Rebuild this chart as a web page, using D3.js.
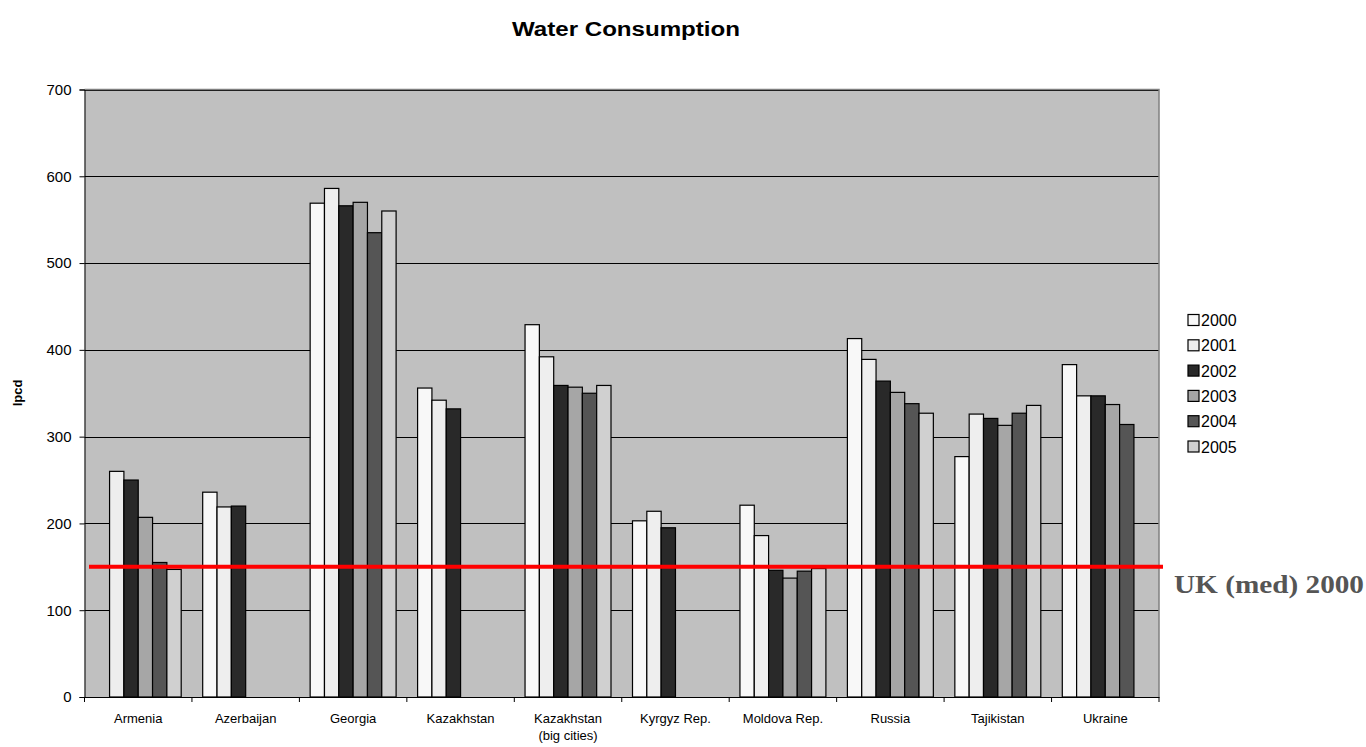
<!DOCTYPE html>
<html><head><meta charset="utf-8">
<script src="https://cdn.jsdelivr.net/npm/d3@7"></script>
<style>body{margin:0;background:#fff}svg{display:block}</style>
</head><body>
<svg id="c" width="1366" height="747"></svg>
<script>
const categories = ["Armenia","Azerbaijan","Georgia","Kazakhstan","Kazakhstan\n(big cities)","Kyrgyz Rep.","Moldova Rep.","Russia","Tajikistan","Ukraine"];
const years = ["2000","2001","2002","2003","2004","2005"];
const colors = ["#f8f8f8","#eeeeee","#292929","#a6a6a6","#555555","#d0d0d0"];
const v2000 = [null,236,569,356,429,203,221,413,277,383];
const v2001 = [260,219,586,342,392,214,186,389,326,347];
const v2002 = [250,220,566,332,359,195,146,364,321,347];
const v2003 = [207,null,570,null,357,null,137,351,313,337];
const v2004 = [155,null,535,null,350,null,145,338,327,314];
const v2005 = [147,null,560,null,359,null,148,327,336,null];
const series = [v2000,v2001,v2002,v2003,v2004,v2005];
const yTicks = [0,100,200,300,400,500,600,700];
const refValue = 150;
const refLabel = "UK (med) 2000";

const svg = d3.select("#c");
const L=84.5, R=1159, T=89.5, B=697;
const FONT = "Arial, Liberation Sans, sans-serif";
const x = d3.scaleBand().domain(categories).range([L,R]).paddingInner(0).paddingOuter(0);
const y = d3.scaleLinear().domain([0,700]).range([B,T]);

svg.append("rect").attr("x",L).attr("y",T).attr("width",R-L).attr("height",B-T).attr("fill","#c0c0c0");
svg.append("g").selectAll("line").data(yTicks.filter(d=>d>0)).join("line")
  .attr("x1",L).attr("x2",R).attr("y1",d=>Math.round(y(d))+0.5).attr("y2",d=>Math.round(y(d))+0.5)
  .attr("stroke","#000").attr("stroke-width",1);
svg.append("path").attr("d",`M${L},${T}H${R}V${B}`).attr("fill","none").attr("stroke","#808080").attr("stroke-width",1.5);

// bars: 6 bars per group with a gap of 150% of bar width
const bw = x.bandwidth()/7.5;
years.forEach((yr,i)=>{
  svg.append("g").selectAll("rect").data(categories.map((c,j)=>({c,v:series[i][j]})).filter(d=>d.v!=null)).join("rect")
    .attr("x",d=>x(d.c)+bw*0.75+i*bw).attr("width",bw)
    .attr("y",d=>y(d.v)).attr("height",d=>B-y(d.v))
    .attr("fill",colors[i]).attr("stroke","#000").attr("stroke-width",1.2);
});

// axes
const ya = svg.append("g").attr("transform",`translate(${L},0)`)
  .call(d3.axisLeft(y).tickValues(yTicks).tickSize(5).tickPadding(8));
ya.select(".domain").attr("stroke","#000");
ya.selectAll("text").attr("font-family",FONT).attr("font-size",15).attr("fill","#000");
const xa = svg.append("g").attr("transform",`translate(0,${B})`)
  .call(d3.axisBottom(x).tickSize(0).tickFormat(""));
xa.select(".domain").attr("stroke","#000");
svg.append("g").selectAll("line").data(d3.range(11)).join("line")
  .attr("x1",i=>L+i*x.bandwidth()).attr("x2",i=>L+i*x.bandwidth()).attr("y1",B).attr("y2",B+5).attr("stroke","#000");
const lab = svg.append("g").selectAll("text").data(categories).join("text")
  .attr("x",d=>x(d)+x.bandwidth()/2).attr("y",B+26).attr("text-anchor","middle")
  .attr("font-family",FONT).attr("font-size",13).attr("fill","#000");
lab.each(function(d){
  const parts=d.split("\n");
  parts.forEach((p,k)=>d3.select(this).append("tspan").attr("x",x(d)+x.bandwidth()/2).attr("dy",k?17:0).text(p));
});

// reference line
svg.append("line").attr("x1",89).attr("x2",1163).attr("y1",y(refValue)).attr("y2",y(refValue))
  .attr("stroke","#ff0000").attr("stroke-width",4);
svg.append("text").attr("x",1174).attr("y",y(refValue)+26).text(refLabel)
  .attr("textLength",190).attr("lengthAdjust","spacingAndGlyphs")
  .attr("font-family","Liberation Serif, Times New Roman, serif").attr("font-weight","bold").attr("font-size",26).attr("fill","#555");

// title
svg.append("text").attr("x",512).attr("y",36).text("Water Consumption")
  .attr("textLength",228).attr("lengthAdjust","spacingAndGlyphs")
  .attr("font-family",FONT).attr("font-weight","bold").attr("font-size",20);
svg.append("text").attr("transform","translate(22,393) rotate(-90)").attr("text-anchor","middle").text("lpcd")
  .attr("font-family",FONT).attr("font-weight","bold").attr("font-size",13);

// legend
const lg = svg.append("g").selectAll("g").data(years).join("g")
  .attr("transform",(d,i)=>`translate(1188,${320+i*25.3})`);
lg.append("rect").attr("x",0).attr("y",-5.5).attr("width",11).attr("height",11)
  .attr("fill",(d,i)=>colors[i]).attr("stroke","#000").attr("stroke-width",1.2);
lg.append("text").attr("x",13).attr("y",6).text(d=>d)
  .attr("font-family",FONT).attr("font-size",16).attr("fill","#000");
</script>
</body></html>
